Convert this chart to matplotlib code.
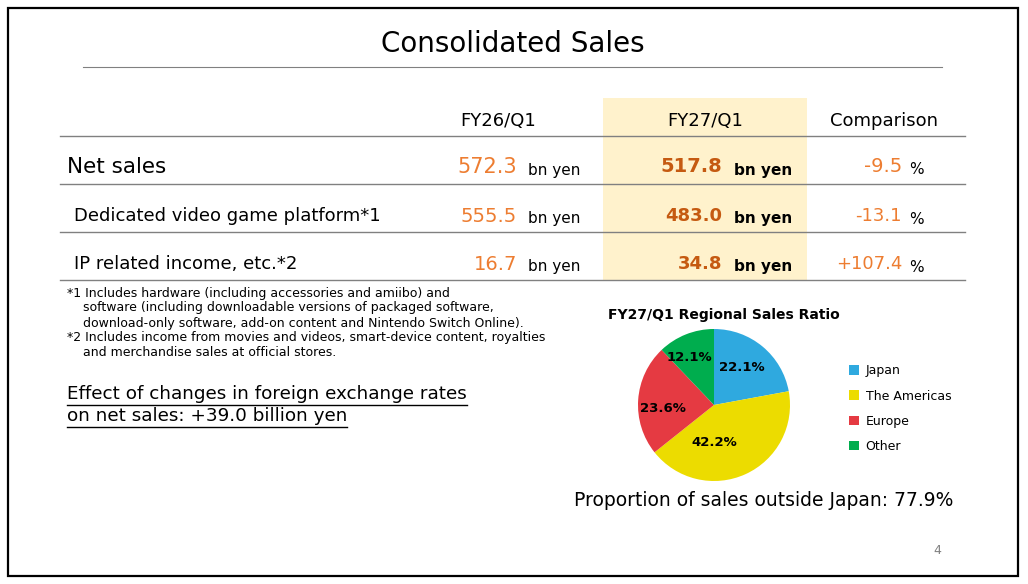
import matplotlib.pyplot as plt
from matplotlib.patches import Rectangle

plt.rcParams['font.family'] = ['DejaVu Sans']

# table data
columns = ["FY26/Q1", "FY27/Q1", "Comparison"]
rows = ["Net sales", "Dedicated video game platform*1", "IP related income, etc.*2"]
fy26 = [572.3, 555.5, 16.7]
fy27 = [517.8, 483.0, 34.8]
comparison = ["-9.5", "-13.1", "+107.4"]

# pie data
regions = ["Japan", "The Americas", "Europe", "Other"]
region_share = [22.1, 42.2, 23.6, 12.1]
region_colors = ["#2FA9DF", "#ECDC00", "#E53A42", "#00AD4E"]

footnotes = [
    "*1 Includes hardware (including accessories and amiibo) and",
    "    software (including downloadable versions of packaged software,",
    "    download-only software, add-on content and Nintendo Switch Online).",
    "*2 Includes income from movies and videos, smart-device content, royalties",
    "    and merchandise sales at official stores.",
]
fx_lines = ["Effect of changes in foreign exchange rates",
            "on net sales: +39.0 billion yen"]

ORANGE = "#ED7D31"
DARK_ORANGE = "#C55A11"

fig = plt.figure(figsize=(10.28, 5.84), dpi=100)
ax = fig.add_axes([0, 0, 1, 1])
ax.set_xlim(0, 1028)
ax.set_ylim(584, 0)
ax.axis("off")

# frame and title
ax.add_patch(Rectangle((8, 8), 1010, 568, fill=False, ec="black", lw=1.6))
ax.text(513, 44, "Consolidated Sales", fontsize=20, ha="center", va="center")
ax.plot([83, 942], [67, 67], color="#808080", lw=0.8)

# highlighted column
ax.add_patch(Rectangle((603, 98), 204, 182, fc="#FFF2CC", ec="none", zorder=0))

# header
col_x = [498, 705, 884]
for x, c in zip(col_x, columns):
    ax.text(x, 121, c, fontsize=13, ha="center", va="center")

for y in [136, 184, 232, 280]:
    ax.plot([60, 965], [y, y], color="#808080", lw=1.0)

row_y = [167, 216, 264]
label_x = [67, 74, 74]
label_size = [15.5, 13, 13]
val_size = [15, 14, 14]
for i, name in enumerate(rows):
    y = row_y[i]
    ax.text(label_x[i], y, name, fontsize=label_size[i], ha="left", va="center")
    ax.text(517, y, f"{fy26[i]:.1f}", fontsize=val_size[i], color=ORANGE,
            ha="right", va="center")
    ax.text(528, y + 3, "bn yen", fontsize=11, ha="left", va="center")
    ax.text(722, y, f"{fy27[i]:.1f}", fontsize=val_size[i] - 1, color=DARK_ORANGE,
            fontweight="bold", ha="right", va="center")
    ax.text(734, y + 3, "bn yen", fontsize=11, fontweight="bold",
            ha="left", va="center")
    ax.text(902, y, comparison[i], fontsize=val_size[i] - 1, color=ORANGE,
            ha="right", va="center")
    ax.text(909, y + 3, "%", fontsize=11, ha="left", va="center")

# footnotes
for k, line in enumerate(footnotes):
    ax.text(67, 293 + 15 * k, line, fontsize=9, ha="left", va="center")

# fx effect, underlined
fig.canvas.draw()
renderer = fig.canvas.get_renderer()
for k, line in enumerate(fx_lines):
    t = ax.text(67, 394 + 22 * k, line, fontsize=13.2, ha="left", va="center")
    bb = t.get_window_extent(renderer).transformed(ax.transData.inverted())
    ax.plot([bb.x0, bb.x1], [405 + 22 * k, 405 + 22 * k], color="black", lw=1.0)

# pie chart
ax.text(724, 315, "FY27/Q1 Regional Sales Ratio", fontsize=10, fontweight="bold",
        ha="center", va="center")
cx, cy, r = 714, 405, 76
pax = fig.add_axes([(cx - 90) / 1028, (584 - cy - 90) / 584, 180 / 1028, 180 / 584])
wedges, _, autotexts = pax.pie(region_share, colors=region_colors, startangle=90,
                               counterclock=False, autopct="%.1f%%", pctdistance=0.6,
                               textprops=dict(fontsize=9.5, fontweight="bold"),
                               wedgeprops=dict(lw=0))
# label placement as in the slide
label_pos = [(0.37, 0.49), (0.0, -0.50), (-0.67, -0.04), (-0.32, 0.62)]
for t, p in zip(autotexts, label_pos):
    t.set_position(p)
pax.set_xlim(-90 / r, 90 / r)
pax.set_ylim(-90 / r, 90 / r)
pax.set_aspect("equal")
pax.axis("off")

leg = fig.legend(wedges, regions, loc="upper left",
                 bbox_to_anchor=(838 / 1028, 1 - 353 / 584), frameon=False,
                 fontsize=9, handlelength=0.8, handleheight=0.8,
                 handletextpad=0.5, labelspacing=0.98)

ax.text(764, 500, "Proportion of sales outside Japan: 77.9%", fontsize=13.5,
        ha="center", va="center")
ax.text(937, 550, "4", fontsize=9, color="#808080", ha="center", va="center")

fig.savefig("out.png", dpi=100)
